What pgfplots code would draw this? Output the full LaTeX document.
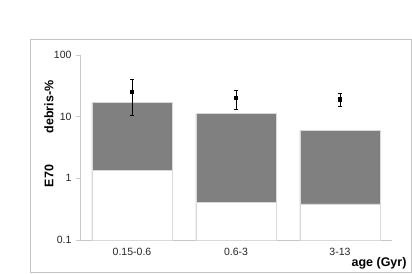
\documentclass[border=0pt]{standalone}
\usepackage{pgfplots}
\pgfplotsset{compat=1.18}
\usepackage{fontspec}
\setmainfont{Liberation Sans}
\definecolor{bargray}{HTML}{808080}
\definecolor{edgegray}{HTML}{D9D9D9}
\definecolor{axgray}{HTML}{C8C8C8}
\definecolor{framegray}{HTML}{C4C4C4}
\begin{document}
\begin{tikzpicture}[x=1pt,y=1pt]
\useasboundingbox (0,0) rectangle (412,273);
\fill[white] (0,0) rectangle (412,273);
\draw[framegray, line width=0.9pt] (30.5,1) rectangle (411,234);
\begin{axis}[
  at={(80pt,33pt)}, anchor=south west,
  width=312pt, height=185pt, scale only axis,
  ymode=log, log origin=infty,
  ymin=0.1, ymax=100,
  xmin=-0.5, xmax=2.5,
  axis x line*=bottom, axis y line*=left,
  axis line style={axgray, line width=0.6pt, -},
  ytick={0.1,1,10,100},
  yticklabels={0.1,1,10,100},
  yminorticks=false,
  xtick={0,1,2},
  xticklabels={0.15-0.6,0.6-3,3-13},
  x tick style={draw=none},
  extra x ticks={-0.5,0.5,1.5,2.5},
  extra x tick labels={},
  extra x tick style={tick style={axgray, line width=0.6pt}, major tick length=4pt},
  y tick style={axgray, line width=0.6pt},
  tick align=outside,
  major tick length=4pt,
  tick label style={font=\fontsize{10.5}{12}\selectfont, text=black!85},
  yticklabel style={xshift=-1pt},
  xticklabel style={yshift=-1pt},
  clip=false,
]
\addplot[ybar, bar width=0.77, bar shift=0pt, fill=bargray, draw=edgegray, line width=0.6pt]
  coordinates {(0,17) (1,11.3) (2,6.05)};
\addplot[ybar, bar width=0.77, bar shift=0pt, fill=white, draw=edgegray, line width=0.6pt]
  coordinates {(0,1.35) (1,0.41) (2,0.384)};
\addplot[only marks, mark=square*, mark size=1.6pt, black,
  error bars/.cd, y dir=both, y explicit,
  error bar style={black, line width=0.6pt},
  error mark options={black, mark size=2.2pt, rotate=90, line width=0.6pt}]
  coordinates {
    (0,25.6) += (0,14.4) -= (0,14.9)
    (1,20.1) += (0,6.9) -= (0,6.7)
    (2,19.2) += (0,4.8) -= (0,4.2)
  };
\end{axis}
\node[rotate=90, font=\bfseries\fontsize{12.5}{14}\selectfont] at (49,166) {debris-\%};
\node[rotate=90, font=\bfseries\fontsize{12.5}{14}\selectfont] at (49,97) {E70};
\node[anchor=east, font=\bfseries\fontsize{12.5}{14}\selectfont] at (410,10) {age (Gyr)};
\end{tikzpicture}
\end{document}
